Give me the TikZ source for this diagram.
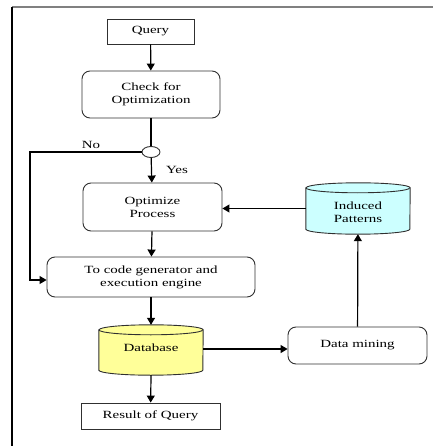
\documentclass[tikz,border=0pt]{standalone}
\usepackage{fontspec}
\setmainfont{Liberation Serif}[FakeStretch=1.36]
\usetikzlibrary{arrows.meta,shapes.geometric}
\definecolor{dbyellow}{HTML}{FFFF99}
\definecolor{patcyan}{HTML}{CCFFFF}
\definecolor{edge}{HTML}{303030}

% drum (cylinder) outline around a named node: #1 node, #2 fill, #3 half width
\newcommand\drawdrum[3]{%
  \path[fill=#2, draw=edge, line width=0.9pt]
    ([yshift=-5pt]#1.north west) -- ([yshift=5pt]#1.south west)
    arc[start angle=180, end angle=360, x radius=#3, y radius=5pt]
    -- ([yshift=-5pt]#1.north east)
    arc[start angle=0, end angle=180, x radius=#3, y radius=5pt] -- cycle;
  \draw[edge, line width=0.9pt] ([yshift=-5pt]#1.north west)
    arc[start angle=180, end angle=360, x radius=#3, y radius=5pt];
}

\begin{document}
\begin{tikzpicture}[x=1pt, y=-1pt,
  every node/.style={font=\fontsize{11}{13}\selectfont, align=center, inner sep=0pt},
  sqbox/.style={draw=edge, line width=0.9pt},
  rbox/.style={draw=edge, line width=0.9pt, rounded corners=8pt},
  drum/.style={minimum width=104pt},
  flow/.style={line width=1.2pt, -{Triangle[length=7pt, width=8pt]}},
  plain/.style={line width=1.2pt}]

\useasboundingbox (0,0) rectangle (433,446);

% frame
\draw[black!50, line width=1.5pt] (12,7) -- (433,7);
\draw[black, line width=1.3pt] (12,7) -- (12,446);

% boxes
\node[sqbox, minimum width=87pt, minimum height=25pt] (query) at (150.5,31.5) {Query};
\node[rbox, minimum width=138pt, minimum height=47pt] (check) at (151,94.5) {Check for\\Optimization};
\node[draw=edge, line width=0.9pt, ellipse, minimum width=18pt, minimum height=11pt] (dec) at (151,152) {};
\node[rbox, minimum width=139pt, minimum height=48pt] (opt) at (152.5,207) {Optimize\\Process};
\node[rbox, minimum width=208pt, minimum height=40pt] (code) at (151,277) {To code generator and\\execution engine};
\node[rbox, minimum width=139pt, minimum height=37pt] (mine) at (357.5,345.5) {Data mining};
\node[sqbox, minimum width=139pt, minimum height=26pt] (result) at (150.5,416) {Result of Query};

% drums
\node[drum, minimum height=50pt] (db) at (151,350) {};
\drawdrum{db}{dbyellow}{52pt}
\node at (151,347.5) {Database};

\node[drum, minimum height=51pt] (pat) at (358,208.5) {};
\drawdrum{pat}{patcyan}{52pt}
\node at (358,212.5) {Induced\\Patterns};

% labels
\node (no) at (91,145) {No};
\node (yes) at (177,170) {Yes};

% connectors
\draw[flow] (query) -- (check);
\draw[plain] (check) -- (dec);
\draw[flow] (dec) -- (opt);
\coordinate (nobend) at (30,152);
\coordinate (nodown) at (30,280);
\draw[flow] (dec.west) -- (nobend) -- (nodown) -- (nodown -| code.west);
\draw[flow] (opt) -- (code);
\draw[flow] (code) -- (db);
\draw[flow] (db.south) -- (result);
\draw[flow] ([yshift=1pt]db.east) -- ([yshift=1pt]db.east -| mine.west);
\draw[flow] (mine) -- (pat);
\draw[flow] (pat.west) -- (pat.west -| opt.east);
\end{tikzpicture}
\end{document}
